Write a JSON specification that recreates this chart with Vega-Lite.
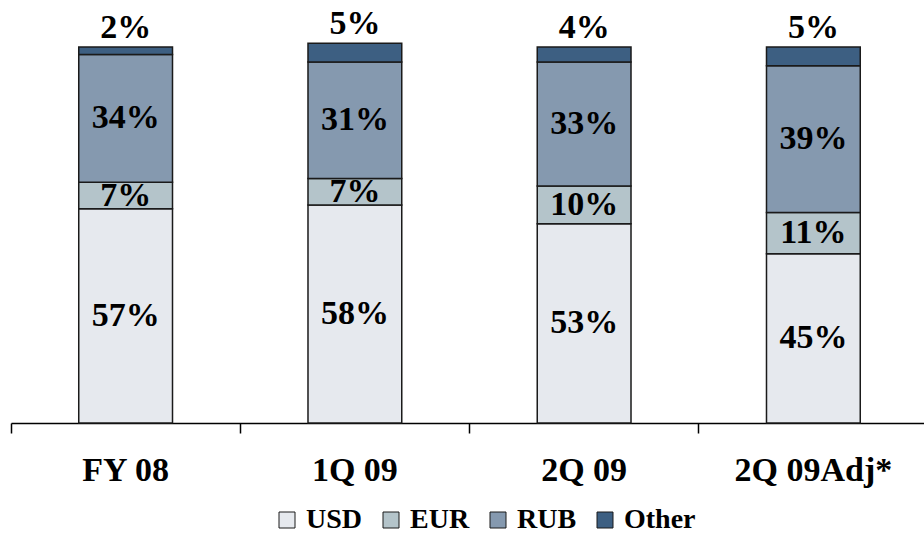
{
  "$schema": "https://vega.github.io/schema/vega-lite/v6.json",
  "width": 917,
  "height": 376,
  "autosize": {"type": "none"},
  "padding": {"left": 11, "top": 47, "right": 0, "bottom": 112},
  "background": "white",
  "config": {
    "view": {"stroke": null},
    "font": "Liberation Serif"
  },
  "data": {
    "values": [
      {"period": "FY 08", "currency": "USD", "value": 57},
      {"period": "FY 08", "currency": "EUR", "value": 7},
      {"period": "FY 08", "currency": "RUB", "value": 34},
      {"period": "FY 08", "currency": "Other", "value": 2},
      {"period": "1Q 09", "currency": "USD", "value": 58},
      {"period": "1Q 09", "currency": "EUR", "value": 7},
      {"period": "1Q 09", "currency": "RUB", "value": 31},
      {"period": "1Q 09", "currency": "Other", "value": 5},
      {"period": "2Q 09", "currency": "USD", "value": 53},
      {"period": "2Q 09", "currency": "EUR", "value": 10},
      {"period": "2Q 09", "currency": "RUB", "value": 33},
      {"period": "2Q 09", "currency": "Other", "value": 4},
      {"period": "2Q 09Adj*", "currency": "USD", "value": 45},
      {"period": "2Q 09Adj*", "currency": "EUR", "value": 11},
      {"period": "2Q 09Adj*", "currency": "RUB", "value": 39},
      {"period": "2Q 09Adj*", "currency": "Other", "value": 5}
    ]
  },
  "transform": [
    {"calculate": "indexof(['USD','EUR','RUB','Other'], datum.currency)", "as": "ord"},
    {"stack": "value", "groupby": ["period"], "sort": [{"field": "ord", "order": "ascending"}], "as": ["v0", "v1"]},
    {"calculate": "(datum.v0 + datum.v1) / 2", "as": "mid"},
    {"calculate": "datum.value + '%'", "as": "label"}
  ],
  "encoding": {
    "x": {
      "field": "period",
      "type": "nominal",
      "sort": null,
      "scale": {"paddingInner": 0, "paddingOuter": 0},
      "axis": {
        "title": null,
        "labelAngle": 0,
        "bandPosition": 0,
        "labelFont": "Liberation Serif",
        "labelFontWeight": "bold",
        "labelFontSize": 34,
        "labelColor": "black",
        "labelPadding": 20,
        "labelOverlap": false,
        "labelLimit": 400,
        "tickSize": 10,
        "tickColor": "black",
        "tickWidth": 1.5,
        "domainColor": "black",
        "domainWidth": 1.5,
        "grid": false
      }
    }
  },
  "layer": [
    {
      "mark": {"type": "bar", "width": {"band": 0.409}, "stroke": "#1a1a1a", "strokeWidth": 1.5},
      "encoding": {
        "y": {"field": "v0", "type": "quantitative", "scale": {"domain": [0, 100], "nice": false}, "axis": null},
        "y2": {"field": "v1"},
        "color": {
          "field": "currency",
          "type": "nominal",
          "scale": {"domain": ["USD", "EUR", "RUB", "Other"], "range": ["#E6E9EE", "#B4C4CA", "#8599AF", "#3D5F82"]},
          "legend": {
            "title": null,
            "orient": "none",
            "direction": "horizontal",
            "legendX": 262,
            "legendY": 459,
            "padding": 0,
            "symbolType": "square",
            "symbolSize": 256,
            "symbolStrokeColor": "#1a1a1a",
            "symbolStrokeWidth": 1,
            "symbolOpacity": 1,
            "labelFont": "Liberation Serif",
            "labelFontWeight": "bold",
            "labelFontSize": 28,
            "labelColor": "black",
            "labelOffset": 5,
            "columnPadding": 14,
            "labelLimit": 300
          }
        }
      }
    },
    {
      "transform": [{"filter": "datum.currency != 'Other'"}],
      "mark": {"type": "text", "font": "Liberation Serif", "fontWeight": "bold", "fontSize": 34, "color": "black", "baseline": "middle", "align": "center"},
      "encoding": {
        "y": {"field": "mid", "type": "quantitative"},
        "text": {"field": "label"}
      }
    },
    {
      "transform": [{"filter": "datum.currency == 'Other'"}],
      "mark": {"type": "text", "font": "Liberation Serif", "fontWeight": "bold", "fontSize": 34, "color": "black", "baseline": "middle", "align": "center", "dy": -19},
      "encoding": {
        "y": {"field": "v1", "type": "quantitative"},
        "text": {"field": "label"}
      }
    }
  ]
}
